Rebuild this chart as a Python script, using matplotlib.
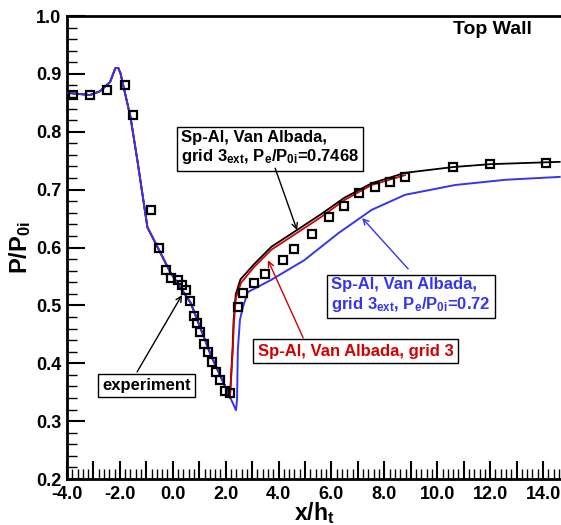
#!/usr/bin/env python
# Top wall pressure distribution: experiment vs Sp-Al / Van Albada runs

import matplotlib
matplotlib.use("Agg")
import matplotlib.pyplot as plt
from matplotlib.ticker import MultipleLocator, FormatStrFormatter, FuncFormatter

# experiment (open squares)
exp_x = [-3.77, -3.13, -2.48, -1.79, -1.49, -0.81, -0.54, -0.27, -0.05, 0.18,
         0.33, 0.49, 0.64, 0.79, 0.90, 1.02, 1.17, 1.32, 1.48, 1.63, 1.78,
         1.97, 2.16, 2.46, 2.65, 3.07, 3.49, 4.17, 4.59, 5.28, 5.92, 6.49,
         7.06, 7.63, 8.20, 8.78, 10.6, 12.0, 14.1]
exp_y = [0.863, 0.863, 0.872, 0.881, 0.829, 0.665, 0.599, 0.561, 0.547, 0.544,
         0.535, 0.527, 0.508, 0.482, 0.470, 0.454, 0.433, 0.419, 0.402, 0.385,
         0.371, 0.352, 0.349, 0.497, 0.521, 0.539, 0.554, 0.578, 0.597, 0.623,
         0.653, 0.672, 0.694, 0.705, 0.713, 0.722, 0.739, 0.744, 0.746]

# upstream part is the same for all three runs
up_x = [-3.96, -3.13, -2.75, -2.37, -2.17, -2.06, -1.98, -1.60, -1.34, -0.96,
        -0.58, -0.08, 0.68, 1.44, 2.01]
up_y = [0.867, 0.8635, 0.870, 0.886, 0.910, 0.910, 0.9015, 0.8255, 0.751, 0.635,
        0.601, 0.556, 0.504, 0.414, 0.357]

# grid 3 (red)
red_x = up_x + [2.16, 2.27, 2.31, 2.39, 2.58, 3.07, 3.72, 4.59, 5.62, 6.49, 7.52, 8.78]
red_y = up_y + [0.340, 0.423, 0.470, 0.514, 0.539, 0.566, 0.596, 0.622, 0.653, 0.682, 0.708, 0.725]

# grid 3ext, Pe/P0i=0.7468 (black)
blk_x = up_x + [2.16, 2.26, 2.30, 2.38, 2.56, 3.07, 3.72, 4.59, 5.62, 6.49, 7.52, 8.78,
                10.60, 12.01, 14.63]
blk_y = up_y + [0.340, 0.425, 0.474, 0.519, 0.545, 0.571, 0.601, 0.627, 0.658, 0.686, 0.711, 0.729,
                0.739, 0.744, 0.748]

# grid 3ext, Pe/P0i=0.72 (blue)
blu_x = up_x + [2.39, 2.43, 2.46, 2.54, 2.65, 2.84, 3.72, 4.97, 6.27, 7.52, 8.78,
                10.68, 12.58, 14.63]
blu_y = up_y + [0.319, 0.337, 0.423, 0.475, 0.497, 0.523, 0.544, 0.578, 0.625, 0.665, 0.691,
                0.708, 0.717, 0.722]

plt.rcParams["font.family"] = "Liberation Sans"
plt.rcParams["font.weight"] = "bold"
plt.rcParams["mathtext.fontset"] = "custom"
plt.rcParams["mathtext.rm"] = "Liberation Sans:bold"
plt.rcParams["mathtext.it"] = "Liberation Sans:bold"
plt.rcParams["mathtext.bf"] = "Liberation Sans:bold"

fig = plt.figure(figsize=(5.61, 5.25), dpi=100)
ax = fig.add_axes([67 / 561, 46 / 525, 494 / 561, 463 / 525])

ax.plot(blk_x, blk_y, color="black", lw=1.3, zorder=2)
ax.plot(red_x, red_y, color="#d40000", lw=1.3, zorder=3)
ax.plot(blu_x, blu_y, color="#3535f0", lw=1.4, zorder=4)
ax.plot(exp_x, exp_y, ls="none", marker="s", ms=5.5, mfc="none", mec="black",
        mew=1.6, zorder=5)

ax.set_xlim(-4, 14.68)
ax.set_ylim(0.2, 1.0)
ax.xaxis.set_major_locator(MultipleLocator(1))
ax.xaxis.set_minor_locator(MultipleLocator(0.2))
ax.yaxis.set_major_locator(MultipleLocator(0.1))
ax.yaxis.set_minor_locator(MultipleLocator(0.02))
# label only every second major x tick
ax.xaxis.set_major_formatter(FuncFormatter(
    lambda v, p: "%.1f" % v if int(round(v)) % 2 == 0 else ""))
ax.yaxis.set_major_formatter(FormatStrFormatter("%.1f"))

ax.tick_params(which="major", direction="in", length=13, width=1.5,
               labelsize=13, top=False, right=False)
ax.tick_params(axis="x", which="major", pad=5)
ax.tick_params(axis="y", which="major", pad=4)
ax.tick_params(which="minor", direction="in", length=7, width=1.0,
               top=False, right=False)
for lab in ax.get_xticklabels() + ax.get_yticklabels():
    lab.set_fontweight("bold")

for side in ["left", "bottom", "top"]:
    ax.spines[side].set_linewidth(2.0)
ax.spines["right"].set_visible(False)

ax.set_xlabel("x/h$_{t}$", fontsize=16.5, fontweight="bold", labelpad=-2)
ax.set_ylabel("P/P$_{0i}$", fontsize=17, fontweight="bold", labelpad=2)

ax.text(12.07, 0.976, "Top Wall", fontsize=14, fontweight="bold",
        ha="center", va="center")

box = dict(boxstyle="square,pad=0.25", fc="white", ec="black", lw=1.0)
arr = dict(arrowstyle="->", lw=1.0, shrinkA=0, shrinkB=0)
fs = 12

ax.text(3.68, 0.772, "Sp-Al, Van Albada,\ngrid 3$_{ext}$, P$_{e}$/P$_{0i}$=0.7468",
        fontsize=fs, fontweight="bold", ha="center", va="center",
        multialignment="left", bbox=box, zorder=6)
ax.annotate("", xy=(4.70, 0.630), xytext=(3.87, 0.737),
            arrowprops=dict(arr, color="black"), zorder=6)

ax.text(9.01, 0.517, "Sp-Al, Van Albada,\ngrid 3$_{ext}$, P$_{e}$/P$_{0i}$=0.72",
        fontsize=fs, fontweight="bold", color="#3535f0", ha="center",
        va="center", multialignment="left", bbox=box, zorder=6)
ax.annotate("", xy=(7.16, 0.651), xytext=(8.90, 0.563),
            arrowprops=dict(arr, color="#3535f0"), zorder=6)

ax.text(6.91, 0.421, "Sp-Al, Van Albada, grid 3", fontsize=fs,
        fontweight="bold", color="#d40000", ha="center", va="center",
        bbox=box, zorder=6)
ax.annotate("", xy=(3.60, 0.578), xytext=(4.93, 0.444),
            arrowprops=dict(arr, color="#d40000"), zorder=6)

ax.text(-0.99, 0.362, "experiment", fontsize=fs, fontweight="bold",
        ha="center", va="center", bbox=box, zorder=6)
ax.annotate("", xy=(0.35, 0.518), xytext=(-1.35, 0.385),
            arrowprops=dict(arr, color="black"), zorder=6)

plt.savefig("out.png", dpi=100)
